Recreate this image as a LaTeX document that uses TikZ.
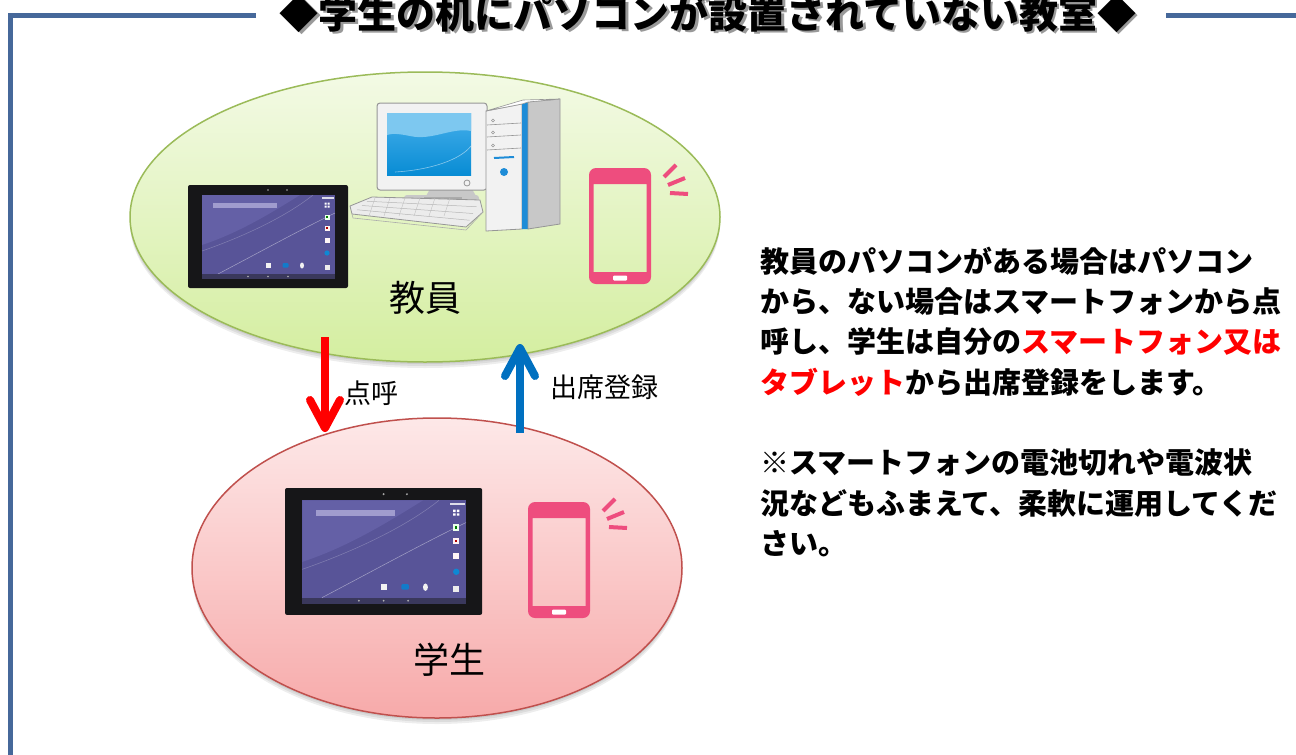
\documentclass[tikz,border=0pt]{standalone}
\usepackage{fontspec}
\newfontfamily\jp{Noto Sans CJK JP}
\usetikzlibrary{shapes.geometric, arrows.meta}

\definecolor{frameblue}{RGB}{70,104,154}
\definecolor{greentop}{RGB}{243,250,229}
\definecolor{greenbot}{RGB}{212,238,160}
\definecolor{greenedge}{RGB}{155,187,89}
\definecolor{pinktop}{RGB}{253,232,232}
\definecolor{pinkbot}{RGB}{247,170,170}
\definecolor{pinkedge}{RGB}{192,80,77}
\definecolor{phonecol}{RGB}{238,77,126}
\definecolor{tabbody}{RGB}{22,22,24}
\definecolor{tabscreen}{RGB}{88,84,152}
\definecolor{tablight}{RGB}{100,96,166}
\definecolor{tabnav}{RGB}{58,56,92}
\definecolor{tabbar}{RGB}{160,156,206}
\definecolor{pcwhite}{RGB}{242,242,242}
\definecolor{pcgray}{RGB}{150,150,150}
\definecolor{pcside}{RGB}{200,200,200}
\definecolor{pcblue}{RGB}{30,140,215}
\definecolor{scrtop}{RGB}{70,175,235}
\definecolor{scrbot}{RGB}{8,140,212}
\definecolor{scrlight}{RGB}{125,200,240}
\definecolor{callred}{RGB}{255,0,0}
\definecolor{regblue}{RGB}{0,112,192}

\tikzset{
  frameline/.style={draw=frameblue, line width=5pt},
  titletxt/.style={anchor=base, inner sep=0pt, font=\jp\bfseries\fontsize{39}{39}\selectfont},
  roomlabel/.style={inner sep=0pt, font=\jp\fontsize{36}{36}\selectfont},
  flowlabel/.style={inner sep=0pt, font=\jp\fontsize{27}{27}\selectfont},
  note/.style={anchor=west, inner sep=0pt, font=\jp\bfseries\fontsize{29}{29}\selectfont},
  room/.style={ellipse, inner sep=0pt, line width=1.5pt, shading=axis},
  flowarrow/.style={line width=8pt, -{Straight Barb[length=28pt, width=30pt, round]}},
  softshadow/.style={fill=black, opacity=0.07},
  % tablet lying flat, 160 x 103 units, origin at top-left corner
  tablet/.pic={
    \fill[tabbody, rounded corners=2pt] (0,0) rectangle (160,103);
    \fill[tabscreen] (14,10) rectangle (147,89);
    \fill[tablight] (14,10) -- (112,10) .. controls (80,30) and (50,48) .. (14,60) -- cycle;
    \draw[white, opacity=.45, line width=.5pt] (30,89) .. controls (70,68) and (110,46) .. (147,28);
    \draw[white, opacity=.25, line width=.5pt] (14,66) .. controls (60,50) and (100,30) .. (125,10);
    \fill[tabnav] (14,89) rectangle (147,94);
    \fill[gray!60] (60,91.5) circle (0.8) (80,91.5) circle (0.8) (100,91.5) circle (0.8);
    \fill[tabbar] (25,18) rectangle (89,22.5);
    \fill[gray!70] (80,5) circle (0.9) (99,5) circle (0.9);
    \fill[white!80!tabscreen] (134,12) rectangle (146,13.5);
    % right icon column
    \fill[white] (136.5,17.5) rectangle ++(2,2) (139.5,17.5) rectangle ++(2,2)
                 (136.5,20.5) rectangle ++(2,2) (139.5,20.5) rectangle ++(2,2);
    \fill[white!92!green] (136.5,29.5) rectangle ++(5,5);
    \fill[green!50!black] (138,31) rectangle ++(2,2);
    \fill[white!95!red] (136.5,40.5) rectangle ++(5,5);
    \fill[red!70!black] (138,42) rectangle ++(2,2);
    \fill[white!85!pink] (136.5,52.5) rectangle ++(5,5);
    \fill[cyan!70!blue] (139,68) circle (2.6);
    \fill[white!85!gray] (136.5,79.5) rectangle ++(5,5);
    % dock icons
    \fill[white!90!gray] (78,78) rectangle ++(5,4.5);
    \fill[cyan!60!blue, rounded corners=1pt] (94.5,78) rectangle ++(6,4.5);
    \fill[white!90!gray] (114,80.5) ellipse [x radius=2, y radius=3];
  },
  % smartphone outline with radio waves, 62 x 116 units
  phone/.pic={
    \fill[phonecol, even odd rule, rounded corners=7pt] (0,0) rectangle (62,116)
         [sharp corners] (4.5,16) rectangle (57.5,104);
    \fill[white, rounded corners=1pt] (24,107.5) rectangle (38,112.5);
    \draw[phonecol, line width=4pt] (75,9) -- (87,-3) (79,17) -- (96,10) (81,25) -- (99,26);
  }
}

\begin{document}
\begin{tikzpicture}[x=1pt, y=-1pt]
\useasboundingbox (0,0) rectangle (1296,755);
\clip (0,0) rectangle (1296,755);
\fill[white] (0,0) rectangle (1296,755);

% frame and heading
\draw[frameline] (256,15) -- (10,15) -- (10,770);
\draw[frameline] (1166,15) -- (1310,15);
\node[titletxt, text=black!40] (titleshade) at (710.5,30.5) {◆学生の机にパソコンが設置されていない教室◆};
\node[titletxt] (title) at (708,28) {◆学生の机にパソコンが設置されていない教室◆};

% soft shadows under the two rooms
\foreach \d in {2,4,6} {
  \fill[softshadow] (425,217+\d) ellipse [x radius=295, y radius=145];
  \fill[softshadow] (437,568+\d) ellipse [x radius=245, y radius=150];
}

% rooms
\node[room, draw=greenedge, top color=greentop, bottom color=greenbot,
      minimum width=590pt, minimum height=290pt] (teacher) at (425,217) {};
\node[room, draw=pinkedge, top color=pinktop, bottom color=pinkbot,
      minimum width=490pt, minimum height=300pt] (student) at (437,568) {};

% teacher's desktop computer: stand, keyboard, monitor, tower
\fill[pcside] (430,189) -- (472,189) -- (476,196) -- (426,196) -- cycle;
\fill[pcside, rounded corners=3pt] (404,195) rectangle (479,205);
\fill[pcgray!80] (424,197) rectangle (462,202);
\filldraw[fill=pcwhite!95!gray, draw=pcgray, line width=.8pt]
  (350,206) -- (372,197) -- (480,200) -- (483,212) -- (466,227) -- (352,214) -- cycle;
\foreach \t in {0.25,0.5,0.75} {
  \draw[pcgray!70, line width=.5pt] (352+20*\t,214-17*\t) -- (466+14*\t,227-27*\t);
}
\foreach \s in {375,390,405,420,435,450} {
  \draw[pcgray!60, line width=.4pt] (\s,198) -- (\s-6,216);
}
\draw[pcgray!80, line width=.6pt] (352,214) -- (353,218) -- (466,230) -- (483,212);
\filldraw[fill=pcwhite, draw=pcgray, line width=1pt, rounded corners=3pt] (377,103) rectangle (487,190);
\shade[top color=scrtop, bottom color=scrbot] (387,113) rectangle (471,175);
\fill[scrlight] (387,113) -- (471,113) -- (471,131) .. controls (452,127) and (432,141) .. (410,136)
  .. controls (400,134) and (392,133) .. (387,135) -- cycle;
\draw[white, opacity=.5, line width=.6pt] (395,172) .. controls (430,170) and (460,160) .. (471,146);
\draw[pcgray, line width=.8pt] (467,183) circle (3);
% tower
\filldraw[fill=pcwhite, draw=pcgray, line width=.8pt] (486,111) -- (522,104) -- (522,229) -- (486,231) -- cycle;
\fill[pcblue] (522,104) -- (528,102) -- (528,229) -- (522,229) -- cycle;
\filldraw[fill=pcside, draw=pcgray, line width=.8pt] (528,102) -- (560,99) -- (560,224) -- (528,229) -- cycle;
\filldraw[fill=white, draw=pcgray, line width=.6pt] (486,111) -- (522,104) -- (528,102) -- (560,99) -- (523,100) -- cycle;
\foreach \yy in {125,137,150} {
  \draw[pcgray, line width=.6pt] (487,\yy) -- (521,\yy-2);
  \draw[pcgray, line width=.5pt] (493,\yy-4.5) circle (1.5);
}
\draw[pcblue, line width=2pt] (494,158) -- (514,157);
\fill[pcblue] (504,172) circle (4);

% tablets and smartphones
\pic at (188,185) {tablet};
\pic[scale=1.232] at (285,488) {tablet};
\pic at (589,168) {phone};
\pic at (528,502) {phone};

% room labels
\node[roomlabel] (teacherlbl) at (425,298) {教員};
\node[roomlabel] (studentlbl) at (449,660) {学生};

% roll call and attendance arrows
\coordinate (callfrom) at (325,337);
\coordinate (callto) at (325,432);
\coordinate (regfrom) at (520,433);
\coordinate (regto) at (520,344);
\draw[flowarrow, draw=callred] (callfrom) -- (callto);
\draw[flowarrow, draw=regblue] (regfrom) -- (regto);
\node[flowlabel] (calllbl) at (371,393) {点呼};
\node[flowlabel] (reglbl) at (604,387) {出席登録};

% explanation
\node[note] (n1) at (760,261) {教員のパソコンがある場合はパソコン};
\node[note] (n2) at (760,301.5) {から、ない場合はスマートフォンから点};
\node[note] (n3) at (760,342) {呼し、学生は自分の\textcolor{callred}{スマートフォン又は}};
\node[note] (n4) at (760,382.5) {\textcolor{callred}{タブレット}から出席登録をします。};
\node[note] (n5) at (760,463) {※スマートフォンの電池切れや電波状};
\node[note] (n6) at (760,503.5) {況などもふまえて、柔軟に運用してくだ};
\node[note] (n7) at (760,544) {さい。};
\end{tikzpicture}
\end{document}
